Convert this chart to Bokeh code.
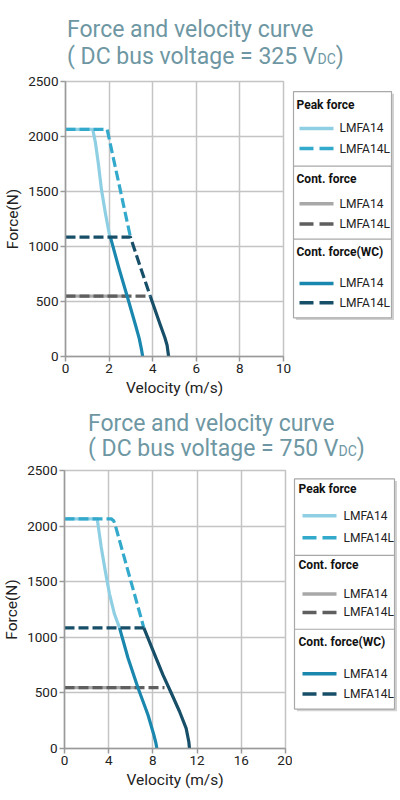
from bokeh.plotting import figure
from bokeh.models import Range1d, FixedTicker, Div
from bokeh.layouts import column, row
from bokeh.embed import file_html
from bokeh.resources import INLINE
from bokeh.core.properties import value

FONT = "Roboto"

# ---------------- data ----------------
force_ticks = [0, 500, 1000, 1500, 2000, 2500]
vel_ticks_325 = [0, 2, 4, 6, 8, 10]
vel_ticks_750 = [0, 4, 8, 12, 16, 20]

group_names = ["Peak force", "Cont. force", "Cont. force(WC)"]
model_names = ["LMFA14", "LMFA14L"]

# 325 VDC
peak14_v_325 = [0, 1.25, 1.37, 1.50, 1.65, 1.83, 2.02, 2.06]
peak14_f_325 = [2065, 2065, 1948, 1764, 1517, 1302, 1102, 1085]
peak14L_v_325 = [0, 1.91, 2.98]
peak14L_f_325 = [2065, 2065, 1085]
cont14_v_325 = [0, 2.83]
cont14_f_325 = [548, 548]
cont14L_v_325 = [0, 3.74]
cont14L_f_325 = [548, 548]
wc14_v_325 = [2.06, 2.44, 2.83, 3.21, 3.38, 3.48, 3.54]
wc14_f_325 = [1085, 810, 548, 286, 165, 70, 0]
wc14L_dash_v_325 = [0, 2.98, 3.44, 3.89]
wc14L_dash_f_325 = [1085, 1085, 810, 548]
wc14L_v_325 = [3.89, 4.35, 4.56, 4.66, 4.73]
wc14L_f_325 = [548, 286, 170, 102, 0]

# 750 VDC
peak14_v_750 = [0, 2.96, 3.32, 3.68, 4.07, 4.52, 4.98]
peak14_f_750 = [2065, 2065, 1813, 1602, 1391, 1209, 1085]
peak14L_v_750 = [0, 4.23, 4.45, 4.59, 7.18]
peak14L_f_750 = [2065, 2065, 2048, 2010, 1085]
cont14_v_750 = [0, 6.64]
cont14_f_750 = [548, 548]
cont14L_v_750 = [0, 9.05]
cont14L_f_750 = [548, 548]
wc14_v_750 = [4.98, 5.74, 6.64, 7.55, 8.09, 8.27, 8.36]
wc14_f_750 = [1085, 816, 548, 303, 121, 50, 0]
wc14L_dash_v_750 = [0, 7.18]
wc14L_dash_f_750 = [1085, 1085]
wc14L_v_750 = [7.18, 8.15, 8.9, 9.66, 10.41, 11.01, 11.25, 11.31]
wc14L_f_750 = [1085, 847, 665, 499, 333, 181, 61, 0]

# ---------------- styles ----------------
C_PEAK14 = "#8fcfe4"
C_PEAK14L = "#33a9cc"
C_CONT14 = "#a8a8a8"
C_CONT14L = "#5f5f5f"
C_WC14 = "#1a87ae"
C_WC14L = "#174f69"
GRID = "#c4c4c4"
LW = 3.2
DASH = "10 4"
TITLE_COLOR = "#6e97a3"


def make_chart(vticks, xmax, d, left_border, fw, fh, right_border):
    p = figure(frame_width=fw, frame_height=fh,
               x_range=Range1d(0, xmax), y_range=Range1d(0, 2500),
               output_backend="svg", toolbar_location=None,
               min_border_left=left_border, min_border_right=right_border,
               min_border_top=10, min_border_bottom=42)
    p.xaxis.ticker = FixedTicker(ticks=vticks)
    p.yaxis.ticker = FixedTicker(ticks=force_ticks)
    p.xaxis.axis_label = "Velocity (m/s)"
    p.yaxis.axis_label = "Force(N)"
    for ax in (p.xaxis, p.yaxis):
        ax.axis_line_color = "#9a9a9a"
        ax.axis_line_width = 1.5
        ax.major_tick_line_color = "#9a9a9a"
        ax.major_tick_line_width = 1.5
        ax.major_tick_out = 5
        ax.major_tick_in = 0
        ax.minor_tick_line_color = None
        ax.major_label_text_font = FONT
        ax.major_label_text_font_size = "13.5px"
        ax.major_label_text_color = "#222222"
        ax.major_label_standoff = 2
        ax.axis_label_text_font = FONT
        ax.axis_label_text_font_size = "15.5px"
        ax.axis_label_text_font_style = "normal"
        ax.axis_label_text_color = "#222222"
        ax.axis_label_standoff = 3
    p.grid.grid_line_color = GRID
    p.grid.grid_line_width = 1.5
    p.outline_line_color = GRID
    p.outline_line_width = 1.5

    kw = dict(line_width=LW, line_join="round")
    # solid lines underneath, dashed on top
    p.line(d["peak14"][0], d["peak14"][1], line_color=C_PEAK14, **kw)
    p.line(d["cont14"][0], d["cont14"][1], line_color=C_CONT14, **kw)
    p.line(d["peak14L"][0], d["peak14L"][1], line_color=C_PEAK14L, line_dash=DASH, **kw)
    p.line(d["cont14L"][0], d["cont14L"][1], line_color=C_CONT14L, line_dash=DASH, **kw)
    p.line(d["wc14"][0], d["wc14"][1], line_color=C_WC14, **kw)
    p.line(d["wc14Ld"][0], d["wc14Ld"][1], line_color=C_WC14L, line_dash=DASH, **kw)
    p.line(d["wc14L"][0], d["wc14L"][1], line_color=C_WC14L, **kw)
    return p


def make_legend(x0, x1, y0, y1, box, seps, title_x, title_y, item_y, sample_x, label_x):
    lf = figure(width=x1 - x0, height=y1 - y0,
                x_range=Range1d(x0, x1), y_range=Range1d(y1, y0),
                min_border=0, x_axis_location=None, y_axis_location=None,
                outline_line_color=None, output_backend="svg", toolbar_location=None)
    lf.grid.visible = False
    bl, br, bt, bb = box
    lf.quad(left=[bl + 2.5], right=[br + 2.5], top=[bt + 2.5], bottom=[bb + 2.5],
            fill_color="#d2d2d2", line_color=None)
    lf.quad(left=[bl], right=[br], top=[bt], bottom=[bb],
            fill_color="white", line_color="#a8a8a8", line_width=1.2)
    lf.segment(x0=[bl] * len(seps), x1=[br] * len(seps), y0=seps, y1=seps,
               line_color="#a8a8a8", line_width=1.2)
    lf.text(x=[title_x] * 3, y=title_y, text=group_names,
            text_font=value(FONT), text_font_size="12px", text_font_style="bold",
            text_color="#111111", text_baseline="middle", text_align="left")
    colors = [(C_PEAK14, C_PEAK14L), (C_CONT14, C_CONT14L), (C_WC14, C_WC14L)]
    for (ya, yb), (ca, cb) in zip(item_y, colors):
        lf.line(sample_x, [ya, ya], line_color=ca, line_width=3.5)
        lf.line(sample_x, [yb, yb], line_color=cb, line_width=3.5, line_dash="14 6")
        lf.text(x=[label_x, label_x], y=[ya, yb], text=model_names,
                text_font=value(FONT), text_font_size="12px",
                text_color="#222222", text_baseline="middle", text_align="left")
    return lf


def title_div(volt, pad_left, pad_top, lh, height):
    html = ('<div style="font-family:Roboto;font-size:23px;line-height:%dpx;color:%s;'
            'padding-left:%dpx;padding-top:%dpx;white-space:nowrap">'
            'Force and velocity curve<br>( DC bus voltage = %s V'
            '<span style="font-size:14px">DC</span>)</div>') % (lh, TITLE_COLOR, pad_left, pad_top, volt)
    return Div(text=html, width=400, height=height, margin=(0, 0, 0, 0))


d325 = {
    "peak14": (peak14_v_325, peak14_f_325), "peak14L": (peak14L_v_325, peak14L_f_325),
    "cont14": (cont14_v_325, cont14_f_325), "cont14L": (cont14L_v_325, cont14L_f_325),
    "wc14": (wc14_v_325, wc14_f_325), "wc14Ld": (wc14L_dash_v_325, wc14L_dash_f_325),
    "wc14L": (wc14L_v_325, wc14L_f_325),
}
d750 = {
    "peak14": (peak14_v_750, peak14_f_750), "peak14L": (peak14L_v_750, peak14L_f_750),
    "cont14": (cont14_v_750, cont14_f_750), "cont14L": (cont14L_v_750, cont14L_f_750),
    "wc14": (wc14_v_750, wc14_f_750), "wc14Ld": (wc14L_dash_v_750, wc14L_dash_f_750),
    "wc14L": (wc14L_v_750, wc14L_f_750),
}

p1 = make_chart(vel_ticks_325, 10, d325, 65, 218, 275, 8)
l1 = make_legend(291, 400, 71, 398, (293, 391, 83, 353), [172, 259],
                 296, [99, 187, 275], [(127, 151), (217, 241), (312, 335)],
                 [299, 333], 339)
p2 = make_chart(vel_ticks_750, 20, d750, 63, 221, 278, 7)
l2 = make_legend(291, 400, 459, 790, (293, 393, 469, 743), [560, 648],
                 297, [481, 572, 663], [(513, 539), (606, 628), (701, 725)],
                 [301, 335], 342)

t1 = title_div("325", 67, 16, 27, 71)
t2 = title_div("750", 88, 12, 25, 61)

layout = column(t1, row(p1, l1, spacing=0), t2, row(p2, l2, spacing=0), spacing=0)

with open("out.html", "w") as f:
    f.write(file_html(layout, INLINE))
